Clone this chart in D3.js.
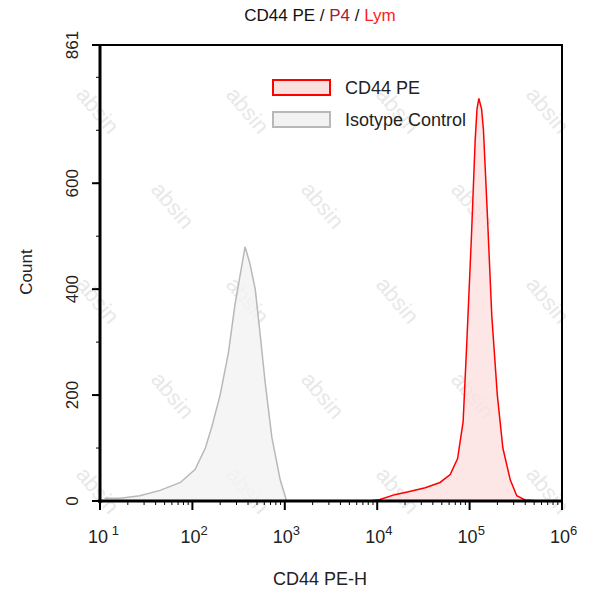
<!DOCTYPE html>
<html><head><meta charset="utf-8">
<script src="https://cdn.jsdelivr.net/npm/d3@7"></script>
<style>body{margin:0;background:#fff}text{font-family:Arial,"Liberation Sans",sans-serif}</style>
</head><body><svg width="593" height="600"></svg>
<script>
// log10(PE-H), count
var isoLog =   [1.05,1.22,1.43,1.65,1.87,2.03,2.14,2.21,2.30,2.39,2.46,2.52,2.57,2.62,2.68,2.73,2.79,2.86,2.95,3.02];
var isoCount = [5,   5,   10,  20,  35,  60,  100, 140, 200, 280, 370, 430, 480, 450, 400, 320, 220, 120, 40,  0];
var cdLog =    [3.92,4.03,4.19,4.35,4.52,4.68,4.79,4.87,4.93,4.97,5.02,5.06,5.08,5.10,5.13,5.15,5.19,5.24,5.30,5.36,5.44,5.51,5.60,5.76];
var cdCount =  [0,   3,   12,  18,  25,  35,  50,  80,  150, 300, 500, 680, 740, 760, 740, 700, 550, 350, 200, 100, 40,  10,  2,   0];
var yTicks = [0,200,400,600,861];
var decades = [1,2,3,4,5,6];

var svg = d3.select("svg");
var x = d3.scaleLinear().domain([1,6]).range([100,562]);
var y = d3.scaleLinear().domain([0,861]).range([501,45]);

// watermark
var wm = svg.append("g").attr("fill","#e8e8e8").style("font-size","22px");
for (var i=-3;i<8;i++) for (var j=0;j<8;j++) {
  var px = i*150+j*75, py = j*95;
  if (px < 30 || px > 540 || py < 40 || py > 540) continue;
  wm.append("text").attr("transform","translate("+px+","+py+") rotate(50)").text("absin");
}

function area(xs,ys){ return d3.area().x(function(d,i){return x(xs[i]);}).y0(y(0)).y1(function(d,i){return y(ys[i]);})(xs); }
function line(xs,ys){ return d3.line().x(function(d,i){return x(xs[i]);}).y(function(d,i){return y(ys[i]);})(xs); }

svg.append("path").attr("d",area(isoLog,isoCount)).attr("fill","#f2f2f2").attr("fill-opacity",0.8);
svg.append("path").attr("d",line(isoLog,isoCount)).attr("fill","none").attr("stroke","#b8b8b8").attr("stroke-width",1.5);
svg.append("path").attr("d",area(cdLog,cdCount)).attr("fill","#fbe0e0").attr("fill-opacity",0.8);
svg.append("path").attr("d",line(cdLog,cdCount)).attr("fill","none").attr("stroke","#ff0000").attr("stroke-width",1.5);

// frame as filled bars
var x0 = x(1), x1 = x(6), yb = y(0), yt = y(861);
var frame = [
  {x:x0-1, y:yt-1, w:x1-x0+2, h:2},
  {x:x1-1, y:yt-1, w:2, h:yb-yt+2},
  {x:x0-1.5, y:yt-1, w:3, h:yb-yt+3},
  {x:x0-2, y:yb-1.5, w:x1-x0+3, h:3}
];
svg.selectAll(".frame").data(frame).enter().append("rect").attr("class","frame")
  .attr("x",function(d){return d.x;}).attr("y",function(d){return d.y;})
  .attr("width",function(d){return d.w;}).attr("height",function(d){return d.h;}).attr("fill","#000");

// x axis ticks
var minor = [];
decades.slice(0,5).forEach(function(d){ for (var k=2;k<10;k++) minor.push(d+Math.log10(k)); });
svg.selectAll(".mx").data(minor).enter().append("line").attr("x1",x).attr("x2",x).attr("y1",501).attr("y2",505).attr("stroke","#000");
svg.selectAll(".Mx").data(decades).enter().append("line").attr("x1",x).attr("x2",x).attr("y1",501).attr("y2",510).attr("stroke","#000").attr("stroke-width",2);
var xl = svg.selectAll(".xl").data(decades).enter().append("text").attr("x",function(d){return x(d)-12;}).attr("y",543).style("font-size","18px").attr("fill","#222");
xl.append("tspan").text("10");
xl.append("tspan").attr("dy",-8).style("font-size","13px").text(function(d){return d===1?" 1":d;});

// y axis ticks
var yMinor = d3.range(100,861,100);
svg.selectAll(".my").data(yMinor).enter().append("line").attr("x1",96).attr("x2",100).attr("y1",y).attr("y2",y).attr("stroke","#000");
svg.selectAll(".My").data(yTicks).enter().append("line").attr("x1",92).attr("x2",100).attr("y1",y).attr("y2",y).attr("stroke","#000").attr("stroke-width",2);
svg.selectAll(".yl").data(yTicks).enter().append("text")
  .attr("transform",function(d){return "translate(78,"+y(d)+") rotate(-90)";})
  .attr("text-anchor","middle").style("font-size","17px").attr("fill","#222").text(function(d){return d;});

// titles
var t = svg.append("text").attr("x",320).attr("y",21).attr("text-anchor","middle").style("font-size","17px");
t.append("tspan").attr("fill","#111").text("CD44 PE / ");
t.append("tspan").attr("fill","#a0203a").text("P4");
t.append("tspan").attr("fill","#111").text(" / ");
t.append("tspan").attr("fill","#ff2020").text("Lym");
svg.append("text").attr("x",320).attr("y",585).attr("text-anchor","middle").style("font-size","18px").attr("fill","#222").text("CD44 PE-H");
svg.append("text").attr("transform","translate(32,272) rotate(-90)").attr("text-anchor","middle").style("font-size","17px").attr("fill","#222").text("Count");

// legend
var leg = [{n:"CD44 PE",s:"#ff0000",f:"#fbe0e0"},{n:"Isotype Control",s:"#b8b8b8",f:"#f2f2f2"}];
leg.forEach(function(d,i){
  svg.append("rect").attr("x",273).attr("y",80+i*32).attr("width",57).attr("height",15).attr("fill",d.f).attr("stroke",d.s).attr("stroke-width",2);
  svg.append("text").attr("x",345).attr("y",94+i*32).style("font-size","18px").attr("fill","#222").text(d.n);
});
</script></body></html>
